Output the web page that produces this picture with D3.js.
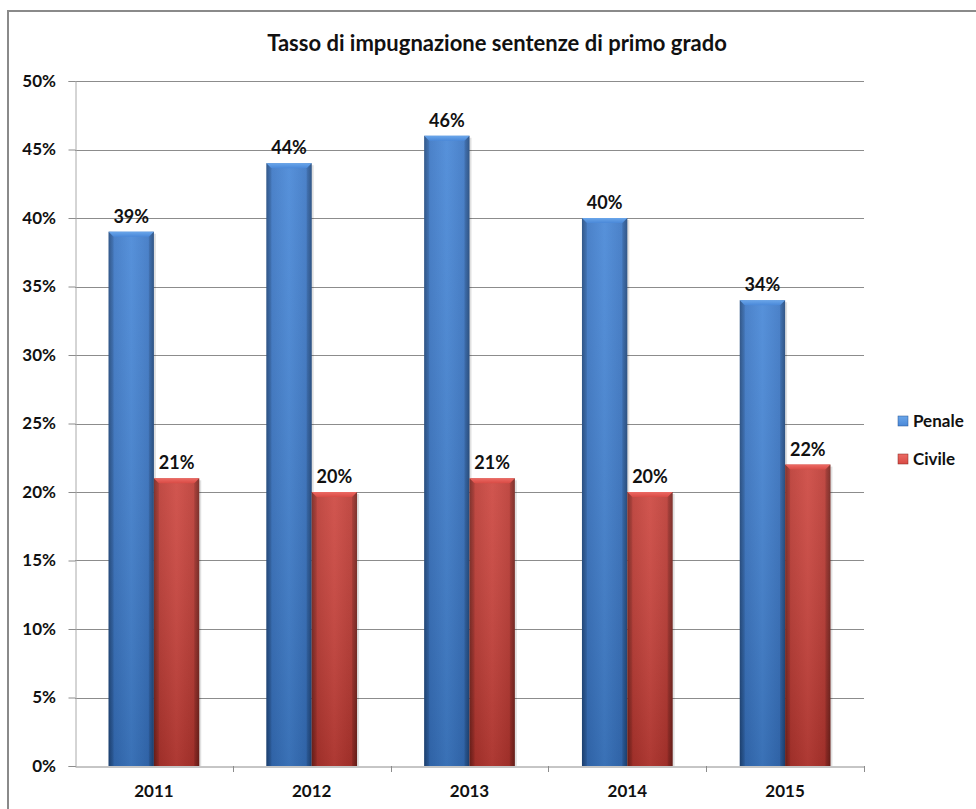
<!DOCTYPE html>
<html>
<head>
<meta charset="utf-8">
<script src="https://cdn.jsdelivr.net/npm/d3@7"></script>
<style>
  html, body { margin: 0; padding: 0; background: #fff; }
  svg { display: block; }
  .lbl { font-family: Lato, "Open Sans", sans-serif; font-weight: 700; fill: #111; }
</style>
</head>
<body>
<svg id="chart" width="976" height="809"></svg>
<script>
const years = ["2011", "2012", "2013", "2014", "2015"];
const penale = [39, 44, 46, 40, 34];
const civile = [21, 20, 21, 20, 22];
const seriesNames = ["Penale", "Civile"];
const yTicks = [0, 5, 10, 15, 20, 25, 30, 35, 40, 45, 50];
const chartTitle = "Tasso di impugnazione sentenze di primo grado";

const svg = d3.select("#chart");
const plot = { left: 75, right: 864, top: 81, bottom: 766 };

// outer frame of the chart object
svg.append("rect")
  .attr("x", 8).attr("y", 11).attr("width", 1000).attr("height", 1000)
  .attr("fill", "none").attr("stroke", "#8a8a8a").attr("stroke-width", 2);

const x = d3.scaleBand().domain(years).range([plot.left, plot.right]).paddingInner(0).paddingOuter(0);
const inner = d3.scaleBand().domain(seriesNames).range([0, x.bandwidth()]).paddingInner(0).paddingOuter(0.74);
const y = d3.scaleLinear().domain([0, 50]).range([plot.bottom, plot.top]);

const defs = svg.append("defs");
const palettes = {
  Penale: { edge: "#24528f", mid: "#3773c2", light: "#4485d6", top: "#6aa6ea", cap: "#4a88d8" },
  Civile: { edge: "#84261f", mid: "#b8362f", light: "#cc433c", top: "#ec6a64", cap: "#d84a44" }
};
Object.entries(palettes).forEach(([k, p]) => {
  const g = defs.append("linearGradient").attr("id", "h-" + k).attr("x1", 0).attr("x2", 1).attr("y1", 0).attr("y2", 0);
  g.append("stop").attr("offset", "0%").attr("stop-color", p.edge);
  g.append("stop").attr("offset", "10%").attr("stop-color", p.mid);
  g.append("stop").attr("offset", "50%").attr("stop-color", p.light);
  g.append("stop").attr("offset", "90%").attr("stop-color", p.mid);
  g.append("stop").attr("offset", "100%").attr("stop-color", p.edge);
  const c = defs.append("linearGradient").attr("id", "c-" + k).attr("x1", 0).attr("x2", 0).attr("y1", 0).attr("y2", 1);
  c.append("stop").attr("offset", "0%").attr("stop-color", p.top);
  c.append("stop").attr("offset", "100%").attr("stop-color", p.cap);
});
const shade = defs.append("linearGradient").attr("id", "vshade").attr("x1", 0).attr("x2", 0).attr("y1", 0).attr("y2", 1);
shade.append("stop").attr("offset", "0%").attr("stop-color", "#ffffff").attr("stop-opacity", 0.1);
shade.append("stop").attr("offset", "100%").attr("stop-color", "#000000").attr("stop-opacity", 0.15);

// gridlines
svg.append("g").selectAll("line").data(yTicks.filter(t => t > 0)).join("line")
  .attr("x1", plot.left).attr("x2", plot.right)
  .attr("y1", d => Math.round(y(d)) + 0.5).attr("y2", d => Math.round(y(d)) + 0.5)
  .attr("stroke", "#8c8c8c").attr("stroke-width", 1);

// y axis: line and ticks from d3.axisLeft, labels placed with the same scale
const ya = svg.append("g").attr("transform", `translate(${plot.left + 0.5},0)`)
  .call(d3.axisLeft(y).tickValues(yTicks).tickFormat("").tickSize(7));
ya.select(".domain").attr("stroke", "#aaaaaa");
ya.selectAll(".tick line").attr("stroke", "#8c8c8c");
svg.append("g").selectAll("text").data(yTicks).join("text")
  .attr("class", "lbl")
  .attr("x", 56).attr("y", d => y(d)).attr("dy", "0.35em")
  .attr("text-anchor", "end").style("font-size", "17px")
  .text(d => d + "%");

// bars
const data = [];
years.forEach((yr, i) => {
  data.push({ year: yr, series: "Penale", value: penale[i] });
  data.push({ year: yr, series: "Civile", value: civile[i] });
});
const bars = svg.append("g");
const bw = inner.bandwidth();
const bev = 5;
data.forEach(d => {
  const x0 = x(d.year) + inner(d.series);
  const y0 = y(d.value);
  const h = plot.bottom - y0;
  const g = bars.append("g");
  g.append("rect").attr("x", x0 + 2).attr("y", y0 + 2).attr("width", bw).attr("height", h - 2)
    .attr("fill", "#000").attr("opacity", 0.12);
  g.append("rect").attr("x", x0).attr("y", y0).attr("width", bw).attr("height", h)
    .attr("fill", `url(#h-${d.series})`);
  g.append("rect").attr("x", x0).attr("y", y0).attr("width", bw).attr("height", h)
    .attr("fill", "url(#vshade)");
  // bevelled top
  g.append("path")
    .attr("d", `M${x0},${y0}L${x0 + bw},${y0}L${x0 + bw - bev},${y0 + bev}L${x0 + bev},${y0 + bev}Z`)
    .attr("fill", `url(#c-${d.series})`);
  g.append("path")
    .attr("d", `M${x0},${y0}L${x0 + bev},${y0 + bev}L${x0 + bev},${plot.bottom}L${x0},${plot.bottom}Z`)
    .attr("fill", "#000").attr("opacity", 0.1);
  g.append("path")
    .attr("d", `M${x0 + bw},${y0}L${x0 + bw - bev},${y0 + bev}L${x0 + bw - bev},${plot.bottom}L${x0 + bw},${plot.bottom}Z`)
    .attr("fill", "#000").attr("opacity", 0.12);
  svg.append("text").attr("class", "lbl")
    .attr("x", x0 + bw / 2).attr("y", y0 - 9)
    .attr("text-anchor", "middle").style("font-size", "18px")
    .text(d.value + "%");
});

// x axis
const xa = svg.append("g").attr("transform", `translate(0,${plot.bottom + 0.5})`)
  .call(d3.axisBottom(x).tickSize(0).tickFormat(""));
xa.select(".domain").attr("stroke", "#8c8c8c");
svg.append("g").selectAll("text").data(years).join("text")
  .attr("class", "lbl")
  .attr("x", d => x(d) + x.bandwidth() / 2).attr("y", 797)
  .attr("text-anchor", "middle").style("font-size", "17px")
  .text(d => d);
svg.append("g").selectAll("line").data(years).join("line")
  .attr("x1", d => Math.round(x(d) + x.bandwidth()) + 0.5)
  .attr("x2", d => Math.round(x(d) + x.bandwidth()) + 0.5)
  .attr("y1", plot.bottom).attr("y2", plot.bottom + 6)
  .attr("stroke", "#8c8c8c");

// title
svg.append("text").attr("class", "lbl").attr("x", 497).attr("y", 51).attr("text-anchor", "middle")
  .style("font-size", "22px").text(chartTitle);

// legend
const legend = svg.append("g");
seriesNames.forEach((s, i) => {
  const ly = 427 + i * 38;
  legend.append("rect").attr("x", 898).attr("y", ly - 11).attr("width", 10).attr("height", 10)
    .attr("fill", `url(#c-${s})`).attr("stroke", palettes[s].edge).attr("stroke-width", 0.5);
  legend.append("text").attr("class", "lbl").attr("x", 913).attr("y", ly).style("font-size", "17px").text(s);
});
</script>
</body>
</html>
